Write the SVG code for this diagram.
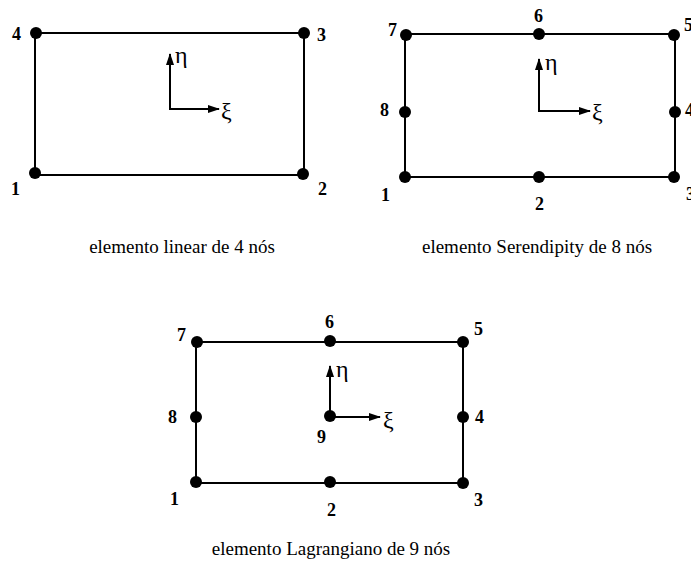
<svg xmlns="http://www.w3.org/2000/svg" width="691" height="562" viewBox="0 0 691 562">
<defs>
<style>
.edge{stroke:#000;stroke-width:2;fill:none}
.ax{stroke:#000;stroke-width:2;fill:none;marker-end:url(#ah)}
.lbl{font-family:"Liberation Serif",serif;font-weight:bold;font-size:18px;fill:#000}
.gr{font-family:"Liberation Serif","DejaVu Serif",serif;font-size:24px;fill:#000}
.cap{font-family:"Liberation Serif",serif;font-size:19px;fill:#000;text-anchor:middle}
.nd{fill:#000}
</style>
<marker id="ah" viewBox="0 0 12 8" refX="11" refY="4" markerWidth="12" markerHeight="8" markerUnits="userSpaceOnUse" orient="auto">
<path d="M0,0 L12,4 L0,8 Z" fill="#000"/>
</marker>
</defs>
<g id="connectors">
<rect class="edge" x="35" y="33" width="269" height="142"/>
<line class="ax" x1="170" y1="109" x2="170" y2="54"/>
<line class="ax" x1="169" y1="109" x2="219" y2="109"/>
<rect class="edge" x="405" y="34" width="270" height="143"/>
<line class="ax" x1="539" y1="111" x2="539" y2="59"/>
<line class="ax" x1="538" y1="111" x2="590" y2="111"/>
<rect class="edge" x="196" y="342" width="267" height="141"/>
<line class="ax" x1="330" y1="417" x2="330" y2="366"/>
<line class="ax" x1="330" y1="417" x2="380" y2="417"/>
</g>
<g id="element1">
<circle class="nd" cx="35" cy="173" r="6"/>
<circle class="nd" cx="303" cy="174" r="6"/>
<circle class="nd" cx="304" cy="33" r="6"/>
<circle class="nd" cx="36" cy="33" r="6"/>
<text class="lbl" x="11" y="195">1</text>
<text class="lbl" x="318" y="195">2</text>
<text class="lbl" x="317" y="41">3</text>
<text class="lbl" x="12" y="40">4</text>
<text class="gr" x="175" y="63">η</text>
<text class="gr" x="221" y="119">ξ</text>
<text class="cap" x="182" y="253">elemento linear de 4 nós</text>
</g>
<g id="element2">
<circle class="nd" cx="405" cy="177" r="6"/>
<circle class="nd" cx="539" cy="177" r="6"/>
<circle class="nd" cx="674" cy="177" r="6"/>
<circle class="nd" cx="675" cy="112" r="6"/>
<circle class="nd" cx="674" cy="35" r="6"/>
<circle class="nd" cx="539" cy="34" r="6"/>
<circle class="nd" cx="406" cy="35" r="6"/>
<circle class="nd" cx="405" cy="112" r="6"/>
<text class="lbl" x="381" y="201">1</text>
<text class="lbl" x="535" y="210">2</text>
<text class="lbl" x="686" y="200">3</text>
<text class="lbl" x="685" y="116">4</text>
<text class="lbl" x="684" y="31">5</text>
<text class="lbl" x="534" y="22">6</text>
<text class="lbl" x="388" y="36">7</text>
<text class="lbl" x="380" y="116">8</text>
<text class="gr" x="545" y="70">η</text>
<text class="gr" x="592" y="120">ξ</text>
<text class="cap" x="537" y="253">elemento Serendipity de 8 nós</text>
</g>
<g id="element3">
<circle class="nd" cx="196" cy="482" r="6"/>
<circle class="nd" cx="330" cy="482" r="6"/>
<circle class="nd" cx="463" cy="483" r="6"/>
<circle class="nd" cx="463" cy="417" r="6"/>
<circle class="nd" cx="463" cy="342" r="6"/>
<circle class="nd" cx="330" cy="341" r="6"/>
<circle class="nd" cx="197" cy="342" r="6"/>
<circle class="nd" cx="196" cy="417" r="6"/>
<circle class="nd" cx="330" cy="416" r="6"/>
<text class="lbl" x="170" y="505">1</text>
<text class="lbl" x="327" y="516">2</text>
<text class="lbl" x="474" y="506">3</text>
<text class="lbl" x="475" y="423">4</text>
<text class="lbl" x="474" y="335">5</text>
<text class="lbl" x="325" y="328">6</text>
<text class="lbl" x="177" y="341">7</text>
<text class="lbl" x="168" y="423">8</text>
<text class="lbl" x="317" y="443">9</text>
<text class="gr" x="336" y="377">η</text>
<text class="gr" x="383" y="428">ξ</text>
<text class="cap" x="331" y="555">elemento Lagrangiano de 9 nós</text>
</g>
</svg>
